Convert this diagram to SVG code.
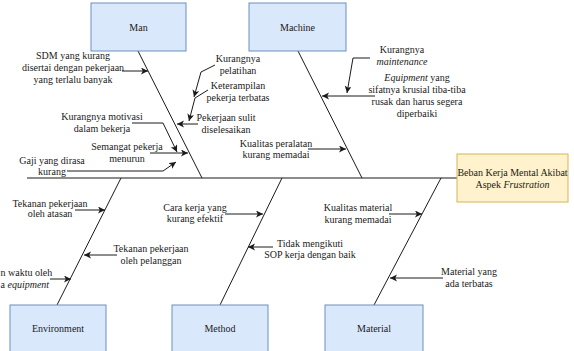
<svg xmlns="http://www.w3.org/2000/svg" width="574" height="351" viewBox="0 0 574 351">
<defs>
<style>
.cat{fill:#dae8fc;stroke:#6c8ebf;stroke-width:1}
.eff{fill:#fff2cc;stroke:#d6b656;stroke-width:1}
text{font-family:"Liberation Serif","DejaVu Serif",serif;font-size:10px;fill:#1a1a1a;text-anchor:middle}
.bone{stroke:#1a1a1a;stroke-width:1;fill:none}
.arr{stroke:#1a1a1a;stroke-width:1;fill:none;marker-end:url(#ah)}
</style>
<marker id="ah" markerUnits="userSpaceOnUse" markerWidth="8" markerHeight="8" refX="7" refY="3.5" orient="auto">
<path d="M0,0 L7,3.5 L0,7 L1.8,3.5 z" fill="#1a1a1a"/>
</marker>
</defs>
<rect width="574" height="351" fill="#fff"/>
<g id="connectors">
<path class="bone" d="M27,178 H457"/>
<path class="bone" d="M138,51 L202,178"/>
<path class="bone" d="M298,51 L362,178"/>
<path class="bone" d="M57,305 L121,178"/>
<path class="bone" d="M220,305 L282,178"/>
<path class="bone" d="M374,305 L441,178"/>
<path class="arr" d="M122,71 H148"/>
<path class="arr" d="M132,123 H163 L177,152"/>
<path class="arr" d="M150,153 H188"/>
<path class="arr" d="M67,171 H163 L176,162"/>
<path class="arr" d="M215,65 L201,72 L194,97"/>
<path class="arr" d="M208,90 L195,98 L189,121"/>
<path class="arr" d="M198,124 H177"/>
<path class="arr" d="M370,58 H353 L347,93"/>
<path class="arr" d="M375,96 H322"/>
<path class="arr" d="M308,149 H346"/>
<path class="arr" d="M75,210 H105"/>
<path class="arr" d="M117,255 H84"/>
<path class="arr" d="M50,279 H71"/>
<path class="arr" d="M225,214 H263"/>
<path class="arr" d="M273,247 H248"/>
<path class="arr" d="M389,214 H422"/>
<path class="arr" d="M443,278 H390"/>
</g>
<g id="man"><rect class="cat" x="91" y="3" width="95" height="48"/><text x="138.5" y="30.5">Man</text></g>
<g id="machine"><rect class="cat" x="249" y="3" width="97" height="48"/><text x="297.5" y="30.5">Machine</text></g>
<g id="environment"><rect class="cat" x="10" y="305" width="96" height="48"/><text x="58" y="332">Environment</text></g>
<g id="method"><rect class="cat" x="172" y="305" width="96" height="48"/><text x="220" y="332">Method</text></g>
<g id="material"><rect class="cat" x="325" y="305" width="98" height="48"/><text x="374" y="332">Material</text></g>
<g id="effect"><rect class="eff" x="457" y="154" width="111" height="48"/><text x="512.5" y="176">Beban Kerja Mental Akibat</text><text x="512.5" y="188">Aspek <tspan font-style="italic">Frustration</tspan></text></g>
<g id="labels">
<text x="73" y="58.5">SDM yang kurang</text>
<text x="73" y="70.5">disertai dengan pekerjaan</text>
<text x="73" y="82.5">yang terlalu banyak</text>
<text x="102" y="119.5">Kurangnya motivasi</text>
<text x="102" y="131.5">dalam bekerja</text>
<text x="127" y="150">Semangat pekerja</text>
<text x="127" y="162">menurun</text>
<text x="52" y="163.5">Gaji yang dirasa</text>
<text x="52" y="175">kurang</text>
<text x="238" y="61.5">Kurangnya</text>
<text x="238" y="73.5">pelatihan</text>
<text x="238" y="88.5">Keterampilan</text>
<text x="238" y="100.5">pekerja terbatas</text>
<text x="226" y="120.5">Pekerjaan sulit</text>
<text x="226" y="133">diselesaikan</text>
<text x="402" y="52.5">Kurangnya</text>
<text x="402" y="65" font-style="italic">maintenance</text>
<text x="417" y="80.5"><tspan font-style="italic">Equipment</tspan> yang</text>
<text x="417" y="92.5">sifatnya krusial tiba-tiba</text>
<text x="417" y="105">rusak dan harus segera</text>
<text x="417" y="116.5">diperbaiki</text>
<text x="276" y="146.5">Kualitas peralatan</text>
<text x="276" y="157.5">kurang memadai</text>
<text x="50" y="206.5">Tekanan pekerjaan</text>
<text x="50" y="216.5">oleh atasan</text>
<text x="151" y="251.5">Tekanan pekerjaan</text>
<text x="151" y="263.5">oleh pelanggan</text>
<text x="0.5" y="275.5" style="text-anchor:start">n waktu oleh</text>
<text x="0.5" y="288" style="text-anchor:start">a <tspan font-style="italic">equipment</tspan></text>
<text x="195" y="210.5">Cara kerja yang</text>
<text x="195" y="221.5">kurang efektif</text>
<text x="310" y="246.5">Tidak mengikuti</text>
<text x="310" y="257.5">SOP kerja dengan baik</text>
<text x="358" y="210.5">Kualitas material</text>
<text x="358" y="222.5">kurang memadai</text>
<text x="469" y="274.5">Material yang</text>
<text x="469" y="286.5">ada terbatas</text>
</g>
</svg>
